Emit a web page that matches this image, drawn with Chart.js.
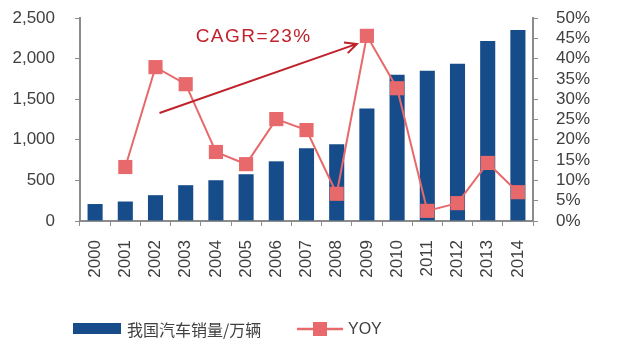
<!DOCTYPE html>
<html lang="zh">
<head>
<meta charset="UTF-8">
<title>我国汽车销量</title>
<script src="https://cdn.jsdelivr.net/npm/chart.js"></script>
<style>
  html, body { margin: 0; padding: 0; background: #fff; }
  #wrap { width: 633px; height: 352px; }
</style>
</head>
<body>
<div id="wrap"><canvas id="grafico" width="633" height="352"></canvas></div>
<script>
const years = ["2000","2001","2002","2003","2004","2005","2006","2007","2008","2009","2010","2011","2012","2013","2014"];
const sales = [209, 240, 318, 441, 502, 576, 735, 895, 944, 1385, 1801, 1850, 1936, 2218, 2353];
const yoy = [null, 13.3, 37.9, 33.7, 17.0, 14.0, 25.1, 22.4, 6.7, 45.6, 32.7, 2.5, 4.4, 14.3, 7.1];
const leftTicks = [0, 500, 1000, 1500, 2000, 2500];
const rightTicks = [0, 5, 10, 15, 20, 25, 30, 35, 40, 45, 50];
const salesLabel = "我国汽车销量/万辆";
const yoyLabel = "YOY";
const cagrText = "CAGR=23%";

const blue = "#164c8a";
const pink = "#e8696b";
const darkRed = "#c0222b";
const axisGray = "#8c8c8c";
const tickFont = { family: "'Liberation Sans', Arial, sans-serif", size: 17 };

const extras = {
  id: "extras",
  afterDatasetsDraw(chart) {
    const ctx = chart.ctx;
    const x = chart.scales.x, y = chart.scales.y;
    // arrow
    const x1 = x.getPixelForValue(2) + 4, y1 = y.getPixelForValue(1330);
    const x2 = x.getPixelForValue(9) - 10, y2 = y.getPixelForValue(2181);
    ctx.save();
    ctx.strokeStyle = darkRed;
    ctx.lineWidth = 2;
    ctx.beginPath();
    ctx.moveTo(x1, y1);
    ctx.lineTo(x2, y2);
    const ang = Math.atan2(y2 - y1, x2 - x1);
    ctx.moveTo(x2 - 13 * Math.cos(ang - 0.45), y2 - 13 * Math.sin(ang - 0.45));
    ctx.lineTo(x2, y2);
    ctx.lineTo(x2 - 13 * Math.cos(ang + 0.45), y2 - 13 * Math.sin(ang + 0.45));
    ctx.stroke();
    // text
    ctx.fillStyle = darkRed;
    ctx.font = "19px 'Liberation Sans', Arial, sans-serif";
    ctx.textAlign = "center";
    ctx.textBaseline = "middle";
    if ("letterSpacing" in ctx) ctx.letterSpacing = "1.5px";
    ctx.fillText(cagrText, x.getPixelForValue(5.25), y.getPixelForValue(2267));
    ctx.restore();
  },
  afterDraw(chart) {
    const ctx = chart.ctx;
    const area = chart.chartArea;
    const ly = 329;
    ctx.save();
    ctx.fillStyle = blue;
    ctx.fillRect(area.left - 7, ly - 6, 48, 11);
    ctx.fillStyle = "#404040";
    ctx.font = "16px 'Noto Sans CJK SC', sans-serif";
    ctx.textBaseline = "middle";
    ctx.fillText(salesLabel, area.left + 47, ly + 1);
    ctx.strokeStyle = pink;
    ctx.lineWidth = 2.5;
    ctx.beginPath();
    ctx.moveTo(area.left + 217, ly);
    ctx.lineTo(area.left + 263, ly);
    ctx.stroke();
    ctx.fillStyle = pink;
    ctx.fillRect(area.left + 233, ly - 7, 14, 14);
    ctx.fillStyle = "#404040";
    ctx.font = "16px 'Liberation Sans', Arial, sans-serif";
    ctx.fillText(yoyLabel, area.left + 268, ly + 1);
    ctx.restore();
  }
};

new Chart(document.getElementById("grafico"), {
  data: {
    labels: years,
    datasets: [
      {
        type: "line",
        label: yoyLabel,
        data: yoy,
        yAxisID: "y2",
        borderColor: pink,
        backgroundColor: pink,
        borderWidth: 2,
        pointStyle: "rect",
        pointRadius: 10,
        pointBackgroundColor: pink,
        pointBorderColor: pink,
        pointBorderWidth: 0,
        tension: 0,
        clip: false,
        order: 0
      },
      {
        type: "bar",
        label: salesLabel,
        data: sales,
        yAxisID: "y",
        backgroundColor: blue,
        categoryPercentage: 1,
        barPercentage: 0.5,
        order: 1
      }
    ]
  },
  options: {
    responsive: false,
    animation: false,
    layout: { autoPadding: false, padding: { top: 18, left: 0, right: 0, bottom: 0 } },
    plugins: { legend: { display: false }, tooltip: { enabled: false } },
    scales: {
      x: {
        offset: true,
        grid: { drawOnChartArea: false, drawTicks: true, tickLength: 5, color: axisGray, offset: true },
        border: { color: axisGray, width: 2 },
        ticks: { color: "#404040", font: tickFont, minRotation: 90, maxRotation: 90, padding: 14, autoSkip: false },
        afterFit(s) { s.height = 131; s.paddingLeft = 0; s.paddingRight = 0; }
      },
      y: {
        position: "left",
        min: 0, max: 2500,
        afterBuildTicks(s) { s.ticks = leftTicks.map(v => ({ value: v })); },
        grid: { drawOnChartArea: false, tickLength: 5, color: axisGray },
        border: { color: axisGray, width: 2 },
        ticks: {
          color: "#404040", font: tickFont, padding: 20, autoSkip: false,
          callback: v => v.toLocaleString("en-US")
        },
        afterFit(s) { s.width = 80; s.paddingTop = 0; s.paddingBottom = 0; }
      },
      y2: {
        position: "right",
        min: 0, max: 50,
        afterBuildTicks(s) { s.ticks = rightTicks.map(v => ({ value: v })); },
        grid: { drawOnChartArea: false, tickLength: 5, color: axisGray },
        border: { color: axisGray, width: 2 },
        ticks: { color: "#404040", font: tickFont, padding: 18, autoSkip: false, callback: v => v + "%" },
        afterFit(s) { s.width = 100; s.paddingTop = 0; s.paddingBottom = 0; }
      }
    }
  },
  plugins: [extras]
});
</script>
</body>
</html>
